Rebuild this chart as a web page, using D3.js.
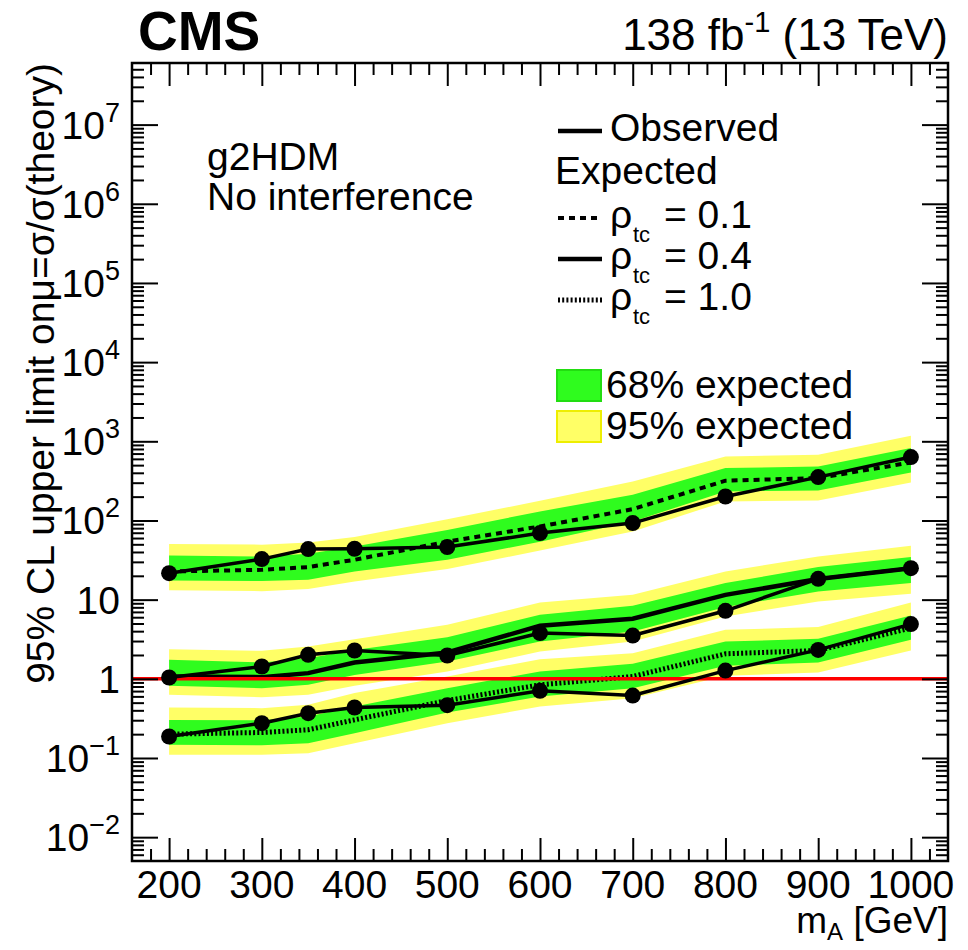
<!DOCTYPE html>
<html>
<head>
<meta charset="utf-8">
<title>g2HDM limits</title>
<script src="https://d3js.org/d3.v7.min.js"></script>
<style>
  body { margin: 0; background: #fff; }
  text { font-family: "Liberation Sans", Arial, Helvetica, sans-serif; fill: #000; }
</style>
</head>
<body>
<script>
  var W = 968, H = 950;
  var plotL = 132, plotR = 948, plotT = 63, plotB = 861;
  var fontSize = 39;

  // mass points [GeV]
  var masses = [200, 300, 350, 400, 500, 600, 700, 800, 900, 1000];

  // rho_tc = 0.1
  var obs01 = [21.6, 32.5, 43.5, 43.9, 46.1, 69.3, 92.7, 201, 353, 632];
  var exp01 = [22.7, 23.8, 25.8, 31.9, 54, 84, 139, 318, 343, 540];
  var g01lo = [17.5, 17.2, 17.8, 22.7, 31.9, 54, 97, 233, 239, 404];
  var g01hi = [36.1, 35, 38, 47, 76, 130, 211, 459, 482, 822];
  var y01lo = [13.1, 12.8, 13.6, 17, 24.3, 41.8, 72.6, 174, 179, 302];
  var y01hi = [50.3, 49.5, 52.7, 61.7, 104, 177, 311, 644, 676, 1175];

  // rho_tc = 0.4
  var obs04 = [1.04, 1.43, 2.01, 2.28, 1.97, 3.78, 3.52, 7.23, 18.3, 25];
  var exp04 = [1.07, 1.05, 1.18, 1.61, 2.15, 4.67, 5.73, 11.5, 18.2, 25];
  var g04lo = [0.816, 0.762, 0.84, 1.12, 1.66, 2.96, 3.96, 8.05, 12.7, 16.2];
  var g04hi = [1.74, 1.61, 1.82, 2.32, 3.36, 6.44, 8.36, 16.2, 25.8, 34.5];
  var y04lo = [0.628, 0.586, 0.628, 0.816, 1.24, 2.21, 2.96, 6.12, 9.48, 11.9];
  var y04hi = [2.37, 2.26, 2.56, 3.17, 4.81, 9.2, 11.5, 22.7, 35.1, 47.9];

  // rho_tc = 1.0
  var obs10 = [0.187, 0.275, 0.368, 0.434, 0.465, 0.706, 0.615, 1.27, 2.32, 4.91];
  var exp10 = [0.2, 0.21, 0.227, 0.303, 0.532, 0.84, 1.07, 2.07, 2.28, 4.37];
  var g10lo = [0.147, 0.145, 0.154, 0.206, 0.376, 0.597, 0.762, 1.46, 1.61, 3.11];
  var g10hi = [0.303, 0.3, 0.334, 0.447, 0.762, 1.24, 1.55, 2.96, 3.2, 6.3];
  var y10lo = [0.110, 0.110, 0.115, 0.154, 0.275, 0.447, 0.57, 1.09, 1.2, 2.28];
  var y10hi = [0.434, 0.426, 0.47, 0.66, 1.07, 1.77, 2.11, 4.16, 4.5, 9.2];

  var xMajor = [200, 300, 400, 500, 600, 700, 800, 900, 1000];
  var xTickLabels = ["200", "300", "400", "500", "600", "700", "800", "900", "1000"];
  var yMajor = [1e-2, 1e-1, 1, 10, 1e2, 1e3, 1e4, 1e5, 1e6, 1e7];
  var yTickLabels = [["10", "\u22122"], ["10", "\u22121"], ["1", ""], ["10", ""], ["10", "2"],
                     ["10", "3"], ["10", "4"], ["10", "5"], ["10", "6"], ["10", "7"]];

  var green = "#2ffc1e", yellow = "#ffff66";

  var groups = [
    { obs: obs01, exp: exp01, glo: g01lo, ghi: g01hi, ylo: y01lo, yhi: y01hi, dash: "6,5",   width: 4 },
    { obs: obs04, exp: exp04, glo: g04lo, ghi: g04hi, ylo: y04lo, yhi: y04hi, dash: null,    width: 4.5 },
    { obs: obs10, exp: exp10, glo: g10lo, ghi: g10hi, ylo: y10lo, yhi: y10hi, dash: "2,2.2", width: 5 }
  ];

  var xScale = d3.scaleLinear().domain([160, 1040]).range([plotL, plotR]);
  var yScale = d3.scaleLog().domain([0.005, 6e7]).range([plotB, plotT]);

  var svg = d3.select("body").append("svg")
    .attr("width", W).attr("height", H);

  // bands
  groups.forEach(function (g) {
    var band = function (lo, hi) {
      return d3.area()
        .x(function (d, i) { return xScale(masses[i]); })
        .y0(function (d, i) { return yScale(lo[i]); })
        .y1(function (d, i) { return yScale(hi[i]); })(masses);
    };
    svg.append("path").attr("d", band(g.ylo, g.yhi)).attr("fill", yellow);
    svg.append("path").attr("d", band(g.glo, g.ghi)).attr("fill", green);
  });

  var line = d3.line()
    .x(function (d, i) { return xScale(masses[i]); })
    .y(function (d) { return yScale(d); });

  // expected lines
  groups.forEach(function (g) {
    svg.append("path").attr("d", line(g.exp))
      .attr("fill", "none").attr("stroke", "#000")
      .attr("stroke-width", g.width)
      .attr("stroke-dasharray", g.dash);
  });

  // theory line mu = 1
  svg.append("line")
    .attr("x1", plotL).attr("x2", plotR)
    .attr("y1", yScale(1)).attr("y2", yScale(1))
    .attr("stroke", "#ff0000").attr("stroke-width", 3.5);

  // observed lines + markers
  groups.forEach(function (g) {
    svg.append("path").attr("d", line(g.obs))
      .attr("fill", "none").attr("stroke", "#000").attr("stroke-width", 3.5);
    svg.selectAll(null).data(g.obs).enter().append("circle")
      .attr("cx", function (d, i) { return xScale(masses[i]); })
      .attr("cy", function (d) { return yScale(d); })
      .attr("r", 8).attr("fill", "#000");
  });

  // minor tick values
  var xMinor = d3.range(180, 1040, 20).filter(function (v) { return v % 100 !== 0; });
  var yMinor = [];
  for (var e = -3; e <= 7; e++) {
    for (var k = 2; k <= 9; k++) {
      var v = k * Math.pow(10, e);
      if (v > 0.005 && v < 6e7) yMinor.push(v);
    }
  }

  function styleAxis(sel) {
    sel.select(".domain").remove();
    sel.selectAll("line").attr("stroke", "#000").attr("stroke-width", 2);
    sel.selectAll("text").remove();
  }

  // x axes (bottom + top), ticks pointing inward
  svg.append("g").attr("transform", "translate(0," + plotB + ")")
    .call(d3.axisBottom(xScale).tickValues(xMajor).tickSize(-23)).call(styleAxis);
  svg.append("g").attr("transform", "translate(0," + plotB + ")")
    .call(d3.axisBottom(xScale).tickValues(xMinor).tickSize(-12)).call(styleAxis);
  svg.append("g").attr("transform", "translate(0," + plotT + ")")
    .call(d3.axisTop(xScale).tickValues(xMajor).tickSize(-23)).call(styleAxis);
  svg.append("g").attr("transform", "translate(0," + plotT + ")")
    .call(d3.axisTop(xScale).tickValues(xMinor).tickSize(-12)).call(styleAxis);

  // y axes (left + right)
  svg.append("g").attr("transform", "translate(" + plotL + ",0)")
    .call(d3.axisLeft(yScale).tickValues(yMajor).tickSize(-26)).call(styleAxis);
  svg.append("g").attr("transform", "translate(" + plotL + ",0)")
    .call(d3.axisLeft(yScale).tickValues(yMinor).tickSize(-12)).call(styleAxis);
  svg.append("g").attr("transform", "translate(" + plotR + ",0)")
    .call(d3.axisRight(yScale).tickValues(yMajor).tickSize(-26)).call(styleAxis);
  svg.append("g").attr("transform", "translate(" + plotR + ",0)")
    .call(d3.axisRight(yScale).tickValues(yMinor).tickSize(-12)).call(styleAxis);

  // frame
  svg.append("rect")
    .attr("x", plotL).attr("y", plotT)
    .attr("width", plotR - plotL).attr("height", plotB - plotT)
    .attr("fill", "none").attr("stroke", "#000").attr("stroke-width", 2.5);

  // x tick labels
  svg.selectAll(null).data(xMajor).enter().append("text")
    .attr("x", function (d) { return xScale(d); })
    .attr("y", 898)
    .attr("text-anchor", "middle")
    .attr("font-size", fontSize)
    .text(function (d, i) { return xTickLabels[i]; });

  // y tick labels
  yMajor.forEach(function (v, i) {
    var t = svg.append("text")
      .attr("x", 120).attr("y", yScale(v) + 14)
      .attr("text-anchor", "end")
      .attr("font-size", fontSize)
      .text(yTickLabels[i][0]);
    if (yTickLabels[i][1]) {
      t.append("tspan").attr("dy", -17).attr("font-size", 27).text(yTickLabels[i][1]);
    }
  });

  // axis titles
  var xt = svg.append("text")
    .attr("x", plotR).attr("y", 933)
    .attr("text-anchor", "end").attr("font-size", 37)
    .text("m");
  xt.append("tspan").attr("dy", 7).attr("font-size", 24).text("A");
  xt.append("tspan").attr("dy", -7).text(" [GeV]");

  svg.append("text")
    .attr("transform", "translate(54," + plotT + ") rotate(-90)")
    .attr("text-anchor", "end").attr("font-size", fontSize)
    .text("95% CL upper limit on\u03bc=\u03c3/\u03c3(theory)");

  // header
  svg.append("text")
    .attr("x", 138).attr("y", 50)
    .attr("font-size", 55).attr("font-weight", "bold")
    .text("CMS");
  var lumi = svg.append("text")
    .attr("x", plotR).attr("y", 50)
    .attr("text-anchor", "end").attr("font-size", 44)
    .text("138 fb");
  lumi.append("tspan").attr("dy", -18).attr("font-size", 29).text("-1");
  lumi.append("tspan").attr("dy", 18).text(" (13 TeV)");

  // model text
  svg.append("text").attr("x", 207).attr("y", 170).attr("font-size", fontSize).text("g2HDM");
  svg.append("text").attr("x", 207).attr("y", 210).attr("font-size", fontSize).text("No interference");

  // legend
  var legLines = [
    { y: 131, dash: null, width: 4.5, label: "Observed", rho: false },
    { y: 218, dash: "6,5", width: 4, label: "= 0.1", rho: true },
    { y: 259, dash: null, width: 4.5, label: "= 0.4", rho: true },
    { y: 300, dash: "2,2.2", width: 5, label: "= 1.0", rho: true }
  ];
  legLines.forEach(function (l) {
    svg.append("line")
      .attr("x1", 558).attr("x2", 602).attr("y1", l.y).attr("y2", l.y)
      .attr("stroke", "#000").attr("stroke-width", l.width)
      .attr("stroke-dasharray", l.dash);
    if (l.rho) {
      svg.append("text").attr("x", 610).attr("y", l.y + 10).attr("font-size", fontSize).text("\u03c1");
      svg.append("text").attr("x", 633).attr("y", l.y + 24).attr("font-size", 22).text("tc");
      svg.append("text").attr("x", 664).attr("y", l.y + 10).attr("font-size", fontSize).text(l.label);
    } else {
      svg.append("text").attr("x", 610).attr("y", l.y + 10).attr("font-size", fontSize).text(l.label);
    }
  });
  svg.append("text").attr("x", 555).attr("y", 184).attr("font-size", fontSize).text("Expected");

  var legBoxes = [
    { y: 370, fill: green, stroke: "#22dd11", label: "68% expected" },
    { y: 411, fill: yellow, stroke: "#eeee00", label: "95% expected" }
  ];
  legBoxes.forEach(function (b) {
    svg.append("rect")
      .attr("x", 557).attr("y", b.y).attr("width", 44).attr("height", 31)
      .attr("fill", b.fill).attr("stroke", b.stroke).attr("stroke-width", 2);
    svg.append("text").attr("x", 606).attr("y", b.y + 28).attr("font-size", fontSize).text(b.label);
  });
</script>
</body>
</html>
